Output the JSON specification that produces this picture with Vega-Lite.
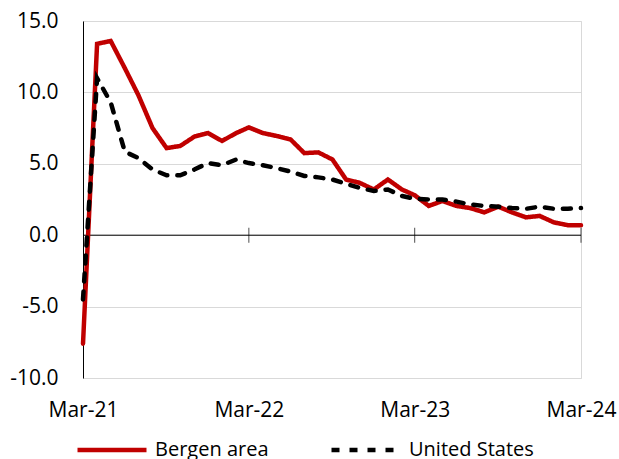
{
  "$schema": "https://vega.github.io/schema/vega-lite/v6.json",
  "autosize": "none",
  "width": 498,
  "height": 357,
  "padding": {"left": 83, "top": 21, "right": 38, "bottom": 81},
  "background": "white",
  "config": {
    "font": "Open Sans",
    "view": {"stroke": "#d9d9d9", "strokeWidth": 1},
    "axis": {"labelFont": "Open Sans", "labelFontSize": 21, "labelColor": "#000000"},
    "legend": {"padding": 0}
  },
  "datasets": {
    "series": [
      {"date": "2021-03-01", "series": "Bergen area", "value": -7.6},
      {"date": "2021-04-01", "series": "Bergen area", "value": 13.4},
      {"date": "2021-05-01", "series": "Bergen area", "value": 13.6},
      {"date": "2021-06-01", "series": "Bergen area", "value": 11.7},
      {"date": "2021-07-01", "series": "Bergen area", "value": 9.8},
      {"date": "2021-08-01", "series": "Bergen area", "value": 7.5},
      {"date": "2021-09-01", "series": "Bergen area", "value": 6.1},
      {"date": "2021-10-01", "series": "Bergen area", "value": 6.25},
      {"date": "2021-11-01", "series": "Bergen area", "value": 6.9},
      {"date": "2021-12-01", "series": "Bergen area", "value": 7.15},
      {"date": "2022-01-01", "series": "Bergen area", "value": 6.6},
      {"date": "2022-02-01", "series": "Bergen area", "value": 7.15},
      {"date": "2022-03-01", "series": "Bergen area", "value": 7.55},
      {"date": "2022-04-01", "series": "Bergen area", "value": 7.15},
      {"date": "2022-05-01", "series": "Bergen area", "value": 6.95},
      {"date": "2022-06-01", "series": "Bergen area", "value": 6.7},
      {"date": "2022-07-01", "series": "Bergen area", "value": 5.75},
      {"date": "2022-08-01", "series": "Bergen area", "value": 5.8},
      {"date": "2022-09-01", "series": "Bergen area", "value": 5.3},
      {"date": "2022-10-01", "series": "Bergen area", "value": 3.9},
      {"date": "2022-11-01", "series": "Bergen area", "value": 3.65},
      {"date": "2022-12-01", "series": "Bergen area", "value": 3.2},
      {"date": "2023-01-01", "series": "Bergen area", "value": 3.9},
      {"date": "2023-02-01", "series": "Bergen area", "value": 3.2},
      {"date": "2023-03-01", "series": "Bergen area", "value": 2.8},
      {"date": "2023-04-01", "series": "Bergen area", "value": 2.05},
      {"date": "2023-05-01", "series": "Bergen area", "value": 2.4},
      {"date": "2023-06-01", "series": "Bergen area", "value": 2.05},
      {"date": "2023-07-01", "series": "Bergen area", "value": 1.9},
      {"date": "2023-08-01", "series": "Bergen area", "value": 1.6},
      {"date": "2023-09-01", "series": "Bergen area", "value": 2.0},
      {"date": "2023-10-01", "series": "Bergen area", "value": 1.6},
      {"date": "2023-11-01", "series": "Bergen area", "value": 1.25},
      {"date": "2023-12-01", "series": "Bergen area", "value": 1.35},
      {"date": "2024-01-01", "series": "Bergen area", "value": 0.9},
      {"date": "2024-02-01", "series": "Bergen area", "value": 0.7},
      {"date": "2024-03-01", "series": "Bergen area", "value": 0.7},
      {"date": "2021-03-01", "series": "United States", "value": -4.5},
      {"date": "2021-04-01", "series": "United States", "value": 11.0},
      {"date": "2021-05-01", "series": "United States", "value": 9.3},
      {"date": "2021-06-01", "series": "United States", "value": 5.85},
      {"date": "2021-07-01", "series": "United States", "value": 5.4},
      {"date": "2021-08-01", "series": "United States", "value": 4.6},
      {"date": "2021-09-01", "series": "United States", "value": 4.2},
      {"date": "2021-10-01", "series": "United States", "value": 4.2},
      {"date": "2021-11-01", "series": "United States", "value": 4.6},
      {"date": "2021-12-01", "series": "United States", "value": 5.05},
      {"date": "2022-01-01", "series": "United States", "value": 4.9},
      {"date": "2022-02-01", "series": "United States", "value": 5.3},
      {"date": "2022-03-01", "series": "United States", "value": 5.05},
      {"date": "2022-04-01", "series": "United States", "value": 4.9},
      {"date": "2022-05-01", "series": "United States", "value": 4.7},
      {"date": "2022-06-01", "series": "United States", "value": 4.45},
      {"date": "2022-07-01", "series": "United States", "value": 4.15},
      {"date": "2022-08-01", "series": "United States", "value": 4.05},
      {"date": "2022-09-01", "series": "United States", "value": 3.9},
      {"date": "2022-10-01", "series": "United States", "value": 3.6},
      {"date": "2022-11-01", "series": "United States", "value": 3.3},
      {"date": "2022-12-01", "series": "United States", "value": 3.1},
      {"date": "2023-01-01", "series": "United States", "value": 3.2},
      {"date": "2023-02-01", "series": "United States", "value": 2.75},
      {"date": "2023-03-01", "series": "United States", "value": 2.55},
      {"date": "2023-04-01", "series": "United States", "value": 2.5},
      {"date": "2023-05-01", "series": "United States", "value": 2.5},
      {"date": "2023-06-01", "series": "United States", "value": 2.35},
      {"date": "2023-07-01", "series": "United States", "value": 2.15},
      {"date": "2023-08-01", "series": "United States", "value": 2.05},
      {"date": "2023-09-01", "series": "United States", "value": 2.0},
      {"date": "2023-10-01", "series": "United States", "value": 1.9},
      {"date": "2023-11-01", "series": "United States", "value": 1.85},
      {"date": "2023-12-01", "series": "United States", "value": 2.0},
      {"date": "2024-01-01", "series": "United States", "value": 1.85},
      {"date": "2024-02-01", "series": "United States", "value": 1.85},
      {"date": "2024-03-01", "series": "United States", "value": 1.9}
    ],
    "ticks": [
      {"date": "2022-03-01"},
      {"date": "2023-03-01"},
      {"date": "2024-03-01"}
    ]
  },
  "layer": [
    {
      "data": {"values": [{"v": 0}]},
      "mark": {"type": "rule", "color": "#000000", "strokeWidth": 1},
      "encoding": {"y": {"field": "v", "type": "quantitative"}}
    },
    {
      "data": {"name": "ticks"},
      "mark": {"type": "tick", "orient": "vertical", "size": 15, "thickness": 1, "color": "#000000"},
      "encoding": {
        "x": {"field": "date", "type": "temporal", "timeUnit": "utcyearmonth", "bandPosition": 0},
        "y": {"datum": 0}
      }
    },
    {
      "data": {"name": "series"},
      "mark": {"type": "line", "strokeWidth": 4.5, "strokeCap": "round", "strokeJoin": "miter"},
      "encoding": {
        "x": {
          "field": "date",
          "type": "temporal",
          "timeUnit": "utcyearmonth",
          "scale": {
            "domain": [
              {"year": 2021, "month": 3, "date": 1, "utc": true},
              {"year": 2024, "month": 3, "date": 1, "utc": true}
            ]
          },
          "axis": {
            "title": null,
            "format": "%b-%y",
            "values": [
              {"year": 2021, "month": 3, "date": 1, "utc": true},
              {"year": 2022, "month": 3, "date": 1, "utc": true},
              {"year": 2023, "month": 3, "date": 1, "utc": true},
              {"year": 2024, "month": 3, "date": 1, "utc": true}
            ],
            "domain": false,
            "ticks": false,
            "grid": false,
            "labelPadding": 21,
            "labelFlush": false,
            "labelOverlap": false
          }
        },
        "y": {
          "field": "value",
          "type": "quantitative",
          "scale": {"domain": [-10, 15], "nice": false, "zero": false},
          "axis": {
            "title": null,
            "format": ".1f",
            "labelExpr": "replace(format(datum.value, '.1f'), '−', '-')",
            "values": [-10, -5, 0, 5, 10, 15],
            "grid": true,
            "gridColor": "#d9d9d9",
            "gridWidth": 1,
            "domain": true,
            "domainColor": "#000000",
            "domainWidth": 1,
            "ticks": false,
            "labelPadding": 25
          }
        },
        "color": {
          "field": "series",
          "type": "nominal",
          "scale": {"domain": ["Bergen area", "United States"], "range": ["#c00000", "#000000"]},
          "legend": {
            "title": null,
            "orient": "none",
            "legendX": -8,
            "legendY": 392,
            "direction": "horizontal",
            "labelFont": "Open Sans",
            "labelFontSize": 20,
            "labelColor": "#000000",
            "labelOffset": 6,
            "symbolType": "stroke",
            "symbolSize": 4761,
            "symbolStrokeWidth": 4.5,
            "columnPadding": 53,
            "labelLimit": 300
          }
        },
        "strokeDash": {
          "field": "series",
          "type": "nominal",
          "scale": {"domain": ["Bergen area", "United States"], "range": [[1, 0], [8, 10]]},
          "legend": null
        }
      }
    }
  ]
}
